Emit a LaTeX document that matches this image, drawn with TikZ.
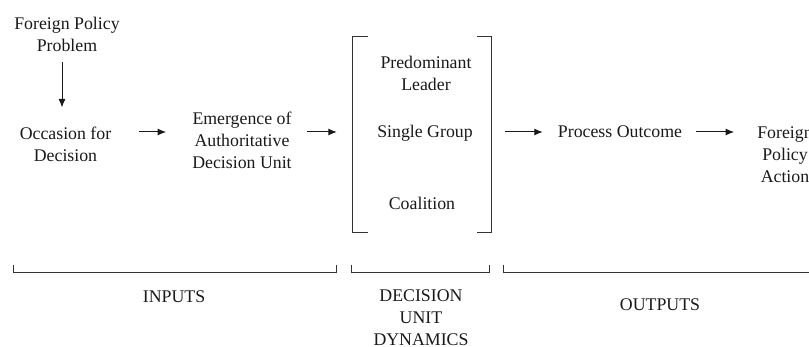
\documentclass[tikz,border=0pt]{standalone}
\usepackage{fontspec}
\setmainfont{Liberation Serif}
\usetikzlibrary{arrows.meta}
\begin{document}
\begin{tikzpicture}[x=1pt,y=-1pt,
  lbl/.style={inner sep=0pt, align=center, font=\fontsize{17.8}{22}\selectfont, text=black!90},
  arr/.style={line width=1pt, draw=black!90, -{Latex[length=8.5pt,width=7pt]}},
  brk/.style={line width=1pt, draw=black!80}]
\useasboundingbox (0,0) rectangle (809,347);
\clip (0,0) rectangle (809,347);
\coordinate (ax) at (0,132);
% text nodes
\node[lbl] (fpp) at (67,34.5) {Foreign Policy\\Problem};
\node[lbl] (occ) at (65.5,144) {Occasion for\\Decision};
\node[lbl] (emer) at (242,140) {Emergence of\\Authoritative\\Decision Unit};
\node[inner sep=0pt, minimum width=138pt, minimum height=195.5pt] (du) at (422,134.25) {};
\node[lbl] (pl) at (426,73) {Predominant\\Leader};
\node[lbl] (sg) at (425,133) {Single Group};
\node[lbl] (coal) at (422,203) {Coalition};
\node[lbl] (po) at (620,132) {Process Outcome};
\node[lbl] (fpa) at (785,155) {Foreign\\Policy\\Action};
\node[lbl] (inp) at (174,297) {INPUTS};
\node[lbl] (dud) at (421,318) {DECISION\\UNIT\\DYNAMICS};
\node[lbl] (outp) at (660,305) {OUTPUTS};
% tall bracket
\draw[brk] ([xshift=15pt]du.north west) -- (du.north west) -- (du.south west) -- ([xshift=15pt]du.south west);
\draw[brk] ([xshift=-14pt]du.north east) -- (du.north east) -- (du.south east) -- ([xshift=-14pt]du.south east);
% arrows
\draw[arr, shorten <=10pt, shorten >=19pt] ([xshift=-5pt]fpp.south) -- ([xshift=-5pt]fpp.south |- occ.north);
\draw[arr, shorten <=27.5pt, shorten >=26pt] (occ.east |- ax) -- (emer.west |- ax);
\draw[arr, shorten <=15pt, shorten >=16pt] (emer.east |- ax) -- (du.west |- ax);
\draw[arr, shorten <=14pt, shorten >=15pt] (du.east |- ax) -- (po.west |- ax);
\draw[arr, shorten <=14pt, shorten >=23pt] (po.east |- ax) -- (fpa.west |- ax);
% bottom brackets
\draw[brk] (13,265) -- (13,273) -- (336,273) -- (336,265);
\draw[brk] (351,265) -- (351,273) -- (489,273) -- (489,265);
\draw[brk] (503,265) -- (503,273) -- (830,273);
\end{tikzpicture}
\end{document}
